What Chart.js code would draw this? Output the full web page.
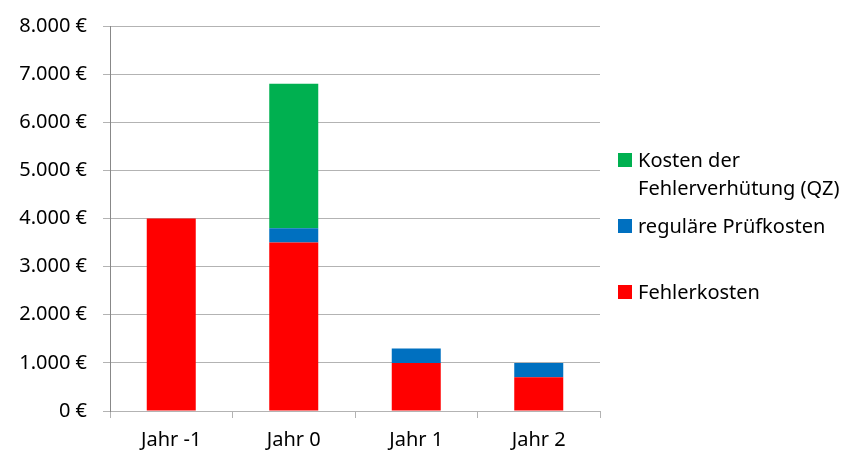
<!DOCTYPE html>
<html>
<head>
<meta charset="utf-8">
<script src="https://cdn.jsdelivr.net/npm/chart.js@4"></script>
<style>
  html, body { margin: 0; padding: 0; background: #fff; }
  #wrap { position: relative; width: 850px; height: 461px; }
  #legend { position: absolute; left: 0; top: 0; }
  .item { position: absolute; left: 618px; font-family: "Noto Sans", sans-serif; font-size: 20px; color: #000; line-height: 28px; }
  .box { position: absolute; left: 0; width: 14px; height: 14px; }
  .txt { position: absolute; left: 20px; white-space: pre; }
</style>
</head>
<body>
<div id="wrap">
  <canvas id="chart" width="850" height="461"></canvas>
  <div id="legend"></div>
</div>
<script>
const categories = ['Jahr -1', 'Jahr 0', 'Jahr 1', 'Jahr 2'];
const fehlerkosten = [4000, 3500, 1000, 700];
const pruefkosten = [0, 300, 300, 300];
const qzKosten = [0, 3000, 0, 0];
const yTicks = [0, 1000, 2000, 3000, 4000, 5000, 6000, 7000, 8000];

const FONT = '"Noto Sans", sans-serif';

function euro(v) {
    return String(v).replace(/\B(?=(\d{3})+(?!\d))/g, '.') + ' €';
}

const datasets = [
    { label: 'Fehlerkosten', data: fehlerkosten, backgroundColor: '#ff0000' },
    { label: 'reguläre Prüfkosten', data: pruefkosten, backgroundColor: '#0070c0' },
    { label: 'Kosten der\nFehlerverhütung (QZ)', data: qzKosten, backgroundColor: '#00b050' }
];
datasets.forEach(d => { d.barPercentage = 0.4; d.categoryPercentage = 1.0; });

new Chart(document.getElementById('chart'), {
    type: 'bar',
    data: { labels: categories, datasets: datasets },
    options: {
        responsive: false,
        animation: false,
        layout: { padding: { top: 24, right: 250, bottom: 0, left: 0 } },
        plugins: { legend: { display: false }, tooltip: { enabled: false } },
        scales: {
            x: {
                stacked: true,
                grid: { drawOnChartArea: false, drawTicks: true, tickLength: 7, color: '#b3b3b3', offset: true },
                border: { color: '#b3b3b3' },
                ticks: { color: '#000', font: { family: FONT, size: 20 }, padding: 10 },
                afterFit: s => { s.height = 50; }
            },
            y: {
                stacked: true,
                min: 0,
                max: 8000,
                afterBuildTicks: s => { s.ticks = yTicks.map(v => ({ value: v })); },
                grid: { color: '#b3b3b3', tickLength: 7 },
                border: { color: '#888888' },
                ticks: { color: '#000', font: { family: FONT, size: 20, lineHeight: 1 }, padding: 16, callback: v => euro(v) },
                afterFit: s => { s.width = 110; }
            }
        }
    }
});

// legend, reverse order like the original
const tops = [146, 212, 278];
const legend = document.getElementById('legend');
datasets.slice().reverse().forEach((d, i) => {
    const item = document.createElement('div');
    item.className = 'item';
    item.style.top = tops[i] + 'px';
    item.innerHTML = `<span class="box" style="background:${d.backgroundColor};top:7px"></span><span class="txt">${d.label}</span>`;
    legend.appendChild(item);
});
</script>
</body>
</html>
